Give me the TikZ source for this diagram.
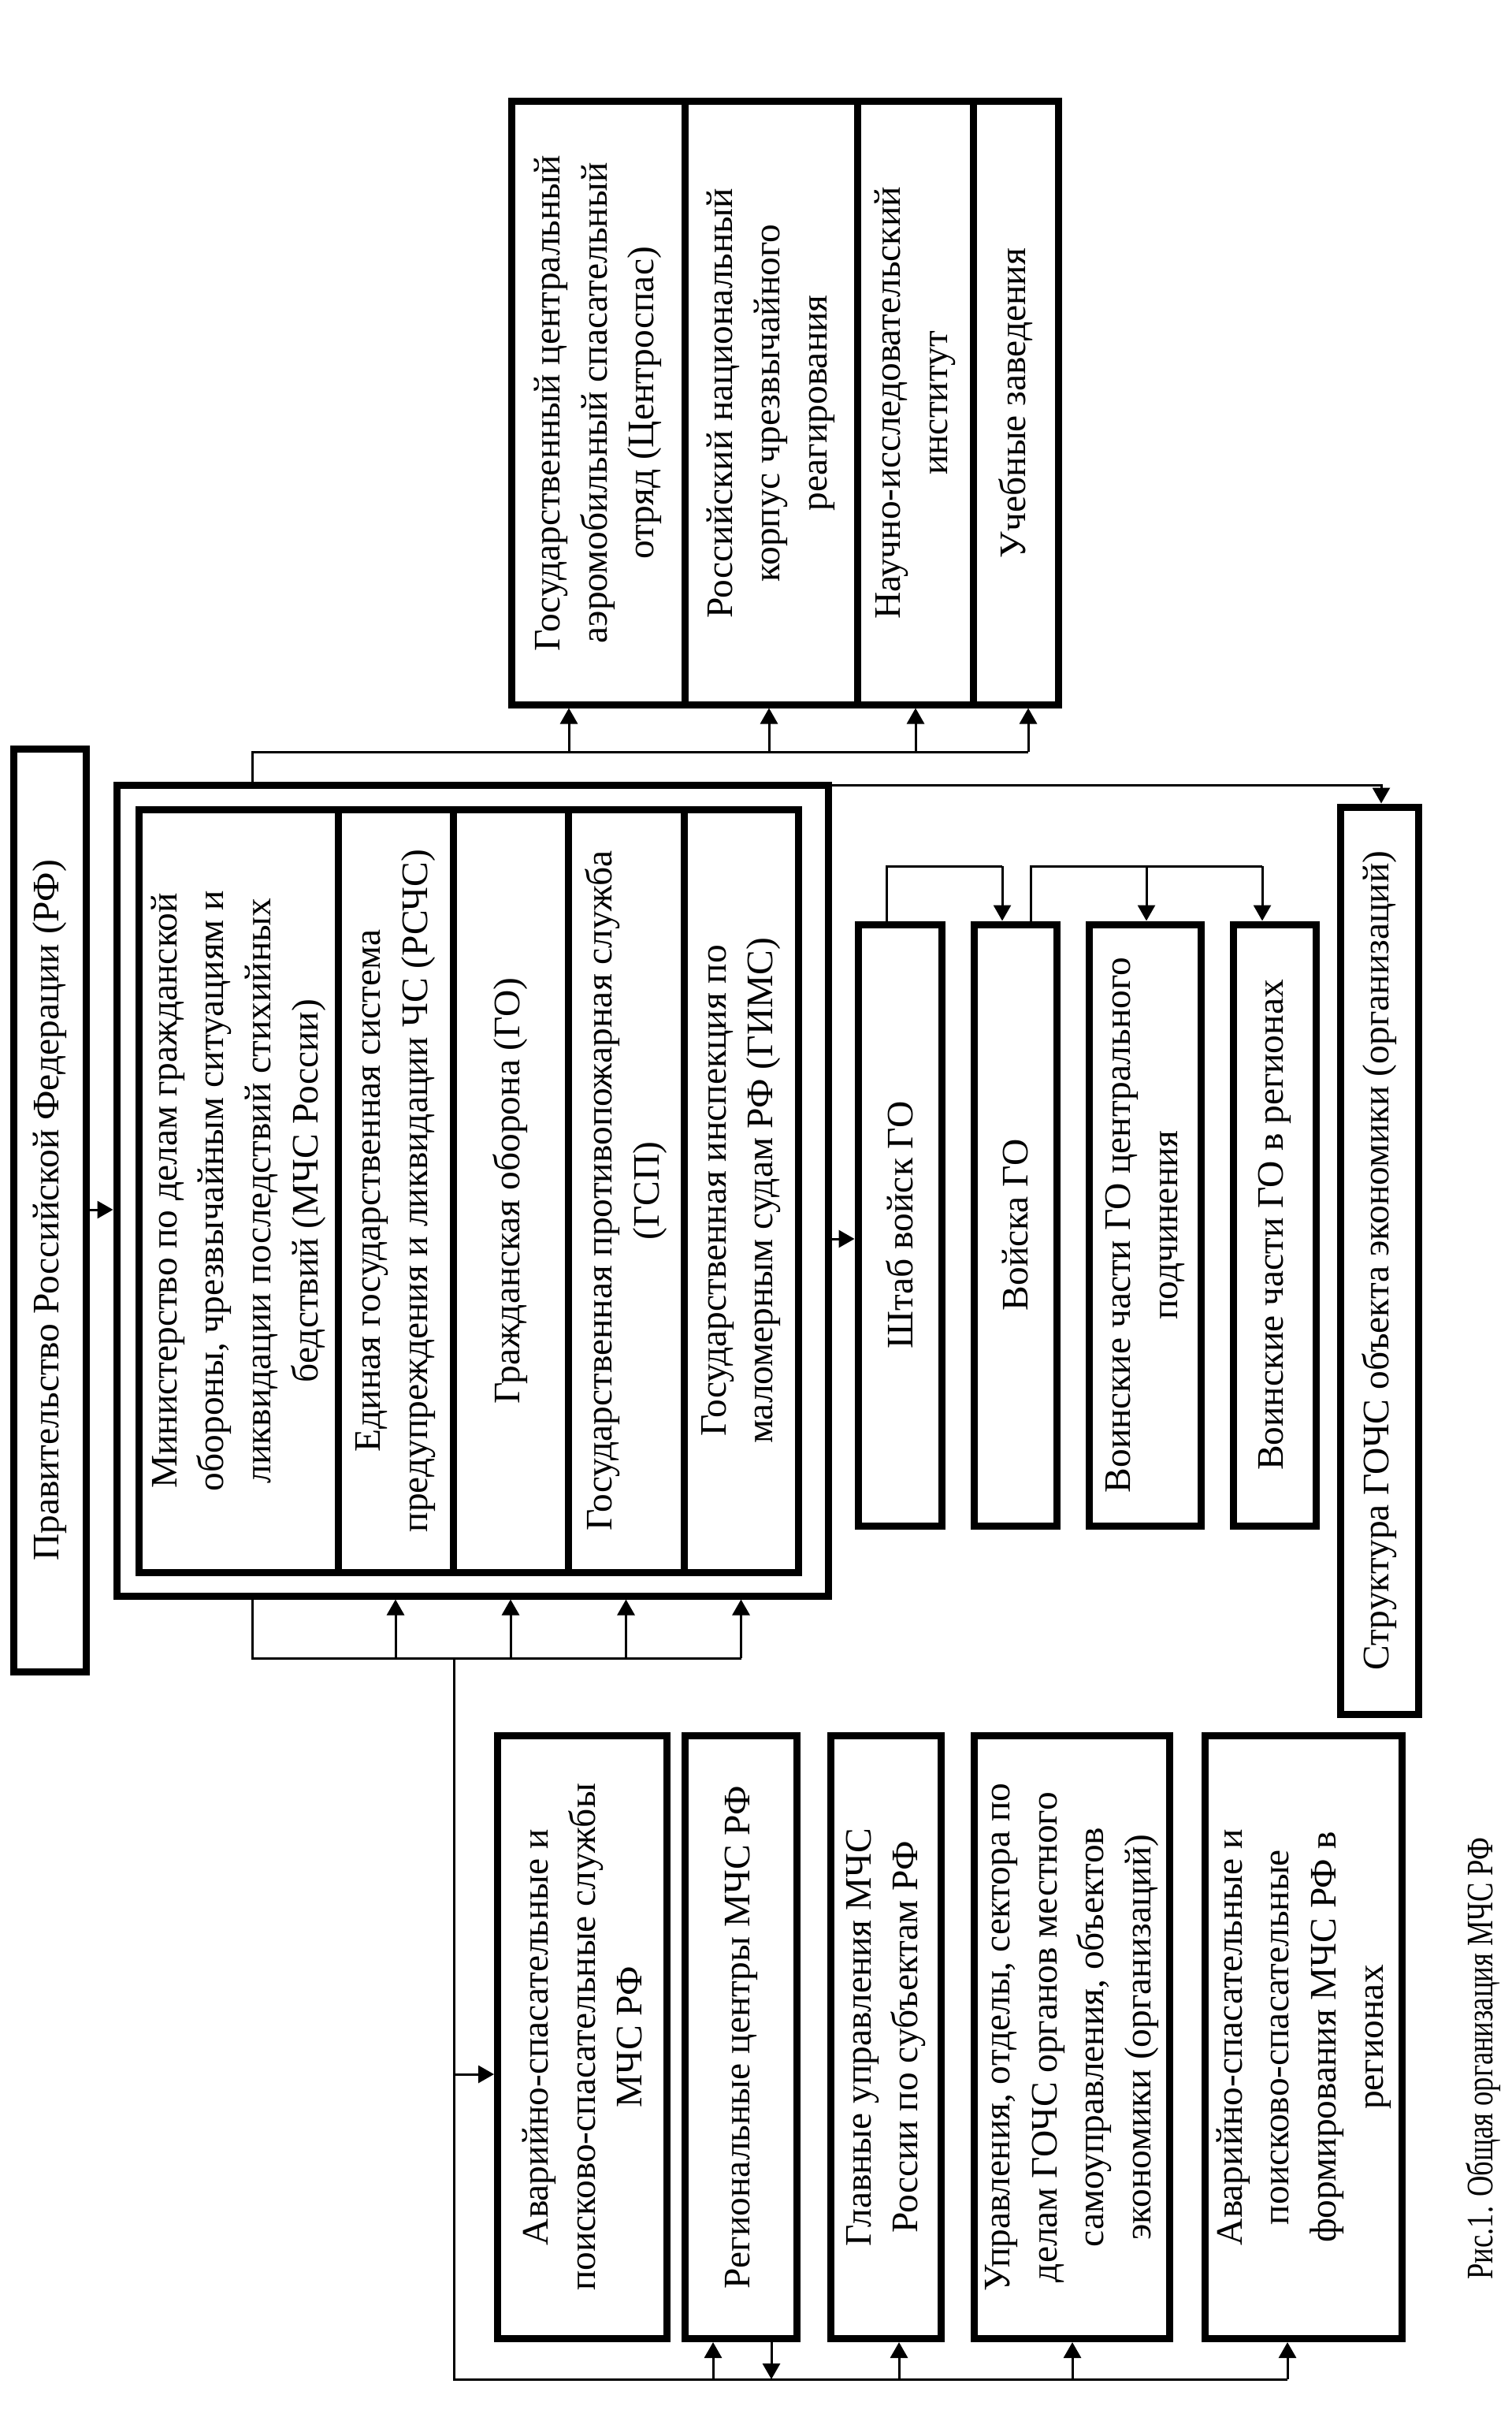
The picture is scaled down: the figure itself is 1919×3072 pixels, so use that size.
\documentclass[tikz,border=0pt]{standalone}
\usepackage{fontspec}
\setmainfont{Liberation Serif}
\newfontfamily\capfont[FakeStretch=0.77]{Liberation Serif}
\usetikzlibrary{arrows.meta}
\newcommand\mybox[5]{%
  \node[box, minimum width={(#4-#2)*0.1mm}, minimum height={(#5-#3)*0.1mm}] (#1) at ({(#2+#4)/2},{(#3+#5)/2}) {};}
\begin{document}
\begin{tikzpicture}[x=0.1mm,y=-0.1mm,
  box/.style={draw, line width=0.9mm, inner sep=0pt, outer sep=0.45mm},
  conn/.style={line width=0.3mm},
  arr/.style={line width=0.3mm, -{Triangle[length=2mm,width=2.2mm]}},
  txt/.style={rotate=90, align=center, inner sep=0pt, font=\fontsize{13.5}{17}\selectfont}]
\useasboundingbox (0,0) rectangle (1919,3072);

% government
\mybox{gov}{17.5}{950.5}{109.5}{2121.5}
\node[txt] (govt) at (gov) {Правительство Российской Федерации (РФ)};

% outer / inner block
\mybox{outer}{148}{996}{1051}{2025}
\mybox{m1}{176}{1027}{429}{1995}
\mybox{m2}{429}{1027}{575}{1995}
\mybox{m3}{575}{1027}{721}{1995}
\mybox{m4}{721}{1027}{868}{1995}
\mybox{m5}{868}{1027}{1013}{1995}
\node[txt] (m1t) at (m1) {Министерство по делам гражданской\\обороны, чрезвычайным ситуациям и\\ликвидации последствий стихийных\\бедствий (МЧС России)};
\node[txt] (m2t) at (m2) {Единая государственная система\\предупреждения и ликвидации ЧС (РСЧС)};
\node[txt] (m3t) at (m3) {Гражданская оборона (ГО)};
\node[txt] (m4t) at (m4) {Государственная противопожарная служба\\(ГСП)};
\node[txt] (m5t) at (m5) {Государственная инспекция по\\маломерным судам РФ (ГИМС)};

% top-right group
\mybox{t1}{649}{129}{869}{894}
\mybox{t2}{869}{129}{1088}{894}
\mybox{t3}{1088}{129}{1235}{894}
\mybox{t4}{1235}{129}{1343}{894}
\node[txt] (t1t) at (t1) {Государственный центральный\\аэромобильный спасательный\\отряд (Центроспас)};
\node[txt] (t2t) at (t2) {Российский национальный\\корпус чрезвычайного\\реагирования};
\node[txt] (t3t) at (t3) {Научно-исследовательский\\институт};
\node[txt] (t4t) at (t4) {Учебные заведения};

% right group
\mybox{shtab}{1089}{1173}{1195}{1936}
\mybox{voiska}{1236}{1173}{1341}{1936}
\mybox{vch1}{1382}{1173}{1524}{1936}
\mybox{vch2}{1565}{1173}{1670}{1936}
\mybox{strukt}{1701}{1024}{1800}{2175}
\node[txt] (shtabt) at (shtab) {Штаб войск ГО};
\node[txt] (voiskat) at (voiska) {Войска ГО};
\node[txt] (vch1t) at (vch1) {Воинские части ГО центрального\\подчинения};
\node[txt] (vch2t) at (vch2) {Воинские части ГО в регионах};
\node[txt] (struktt) at (strukt) {Структура ГОЧС объекта экономики (организаций)};

% bottom group
\mybox{b1}{631.5}{2202.5}{846.5}{2967.5}
\mybox{b2}{869.5}{2202.5}{1011.5}{2967.5}
\mybox{b3}{1054.5}{2202.5}{1194.5}{2967.5}
\mybox{b4}{1236.5}{2202.5}{1484.5}{2967.5}
\mybox{b5}{1529.5}{2202.5}{1779.5}{2967.5}
\node[txt] (b1t) at (b1) {Аварийно-спасательные и\\поисково-спасательные службы\\МЧС РФ};
\node[txt] (b2t) at (b2) {Региональные центры МЧС РФ};
\node[txt] (b3t) at (b3) {Главные управления МЧС\\России по субъектам РФ};
\node[txt] (b4t) at (b4) {Управления, отделы, сектора по\\делам ГОЧС органов местного\\самоуправления, объектов\\экономики (организаций)};
\node[txt] (b5t) at (b5) {Аварийно-спасательные и\\поисково-спасательные\\формирования МЧС РФ в\\регионах};

% caption
\node[txt, font=\capfont\fontsize{13.5}{16}\selectfont] (cap) at (1883,2612) {Рис.1. Общая организация МЧС РФ};

% ---- connectors ----
\coordinate (yA) at (0,1535);
\draw[arr] (gov.east |- yA) -- (outer.west |- yA);
\coordinate (yB) at (0,1572);
\draw[arr] (outer.east |- yB) -- (shtab.west |- yB);

% outer top-right corner to Структура
\coordinate (oc) at (1051,996);
\coordinate (xS) at (1753,0);
\draw[arr] (oc) -- (oc -| xS) -- (strukt.north -| xS);

% top bus
\coordinate (tb) at (320,954);
\coordinate (tbe) at (1305,954);
\draw[conn] (outer.north -| tb) -- (tb) -- (tbe);
\foreach \n/\x in {t1/722, t2/976, t3/1162, t4/1305}{
  \coordinate (tmp) at (\x,954);
  \draw[arr] (tmp) -- (\n.south -| tmp);
}

% Штаб -> Войска
\coordinate (sh1) at (1125,1099);
\coordinate (sh2) at (1272,1099);
\draw[conn] (shtab.north -| sh1) -- (sh1) -- (sh2);
\draw[arr] (sh2) -- (voiska.north -| sh2);
% Войска -> Воинские части
\coordinate (vo1) at (1308,1099);
\coordinate (vo2) at (1455,1099);
\coordinate (vo3) at (1602,1099);
\draw[conn] (voiska.north -| vo1) -- (vo1) -- (vo3);
\draw[arr] (vo2) -- (vch1.north -| vo2);
\draw[arr] (vo3) -- (vch2.north -| vo3);

% bottom of outer block
\coordinate (bb) at (320,2104);
\draw[conn] (outer.south -| bb) -- (bb) -- (m5 |- bb);
\foreach \n in {m2,m3,m4,m5}{
  \draw[arr] (\n |- bb) -- (\n |- outer.south);
}

% vertical bus to bottom group
\coordinate (vb) at (576,2104);
\coordinate (vbe) at (576,3019);
\coordinate (hbe) at (1634,3019);
\draw[conn] (vb) -- (vbe) -- (hbe);
\coordinate (yC) at (0,2632);
\draw[arr] (vb |- yC) -- (b1.west |- yC);
\foreach \n/\x in {b2/905, b3/1141, b4/1361, b5/1634}{
  \coordinate (tmp) at (\x,3019);
  \draw[arr] (tmp) -- (\n.south -| tmp);
}
\coordinate (dn) at (979,3019);
\draw[arr] (b2.south -| dn) -- (dn);
\end{tikzpicture}
\end{document}
